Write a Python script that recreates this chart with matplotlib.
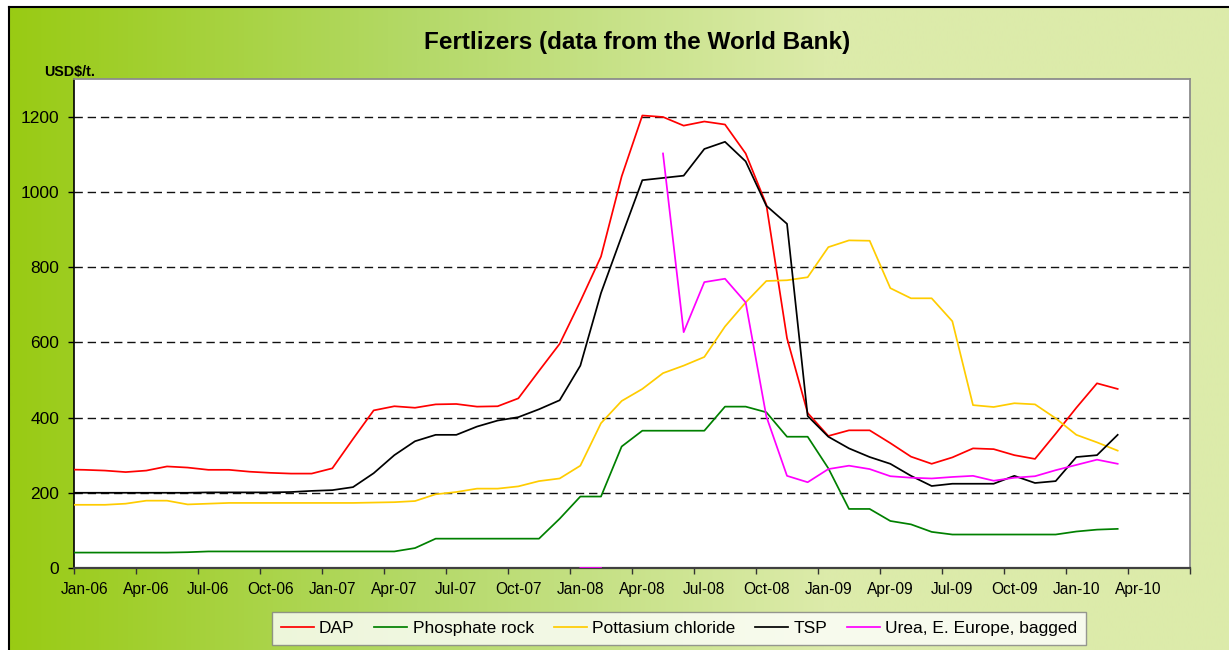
import numpy as np
import pandas as pd
import matplotlib
matplotlib.use("Agg")
import matplotlib.pyplot as plt
from matplotlib.colors import LinearSegmentedColormap

plt.rcParams['font.family'] = ['Liberation Sans', 'DejaVu Sans']

# ------------------ Data (USD per tonne, monthly, Dec-05 .. Mar-10) ------------------ #
months = pd.date_range("2005-12-01", "2010-03-01", freq="MS")

dap = [262,
       261, 259, 255, 259, 270, 267, 261, 261, 256, 253, 251, 251,
       265, 343, 419, 430, 426, 435, 436, 429, 430, 451, 524, 596,
       709, 828, 1041, 1203, 1199, 1176, 1187, 1179, 1102, 966, 611, 412,
       351, 366, 366, 332, 296, 277, 294, 318, 316, 300, 290, 357,
       426, 491, 476]

phosphate_rock = [41,
                  41, 41, 41, 41, 41, 42, 44, 44, 44, 44, 44, 44,
                  44, 44, 44, 44, 53, 78, 78, 78, 78, 78, 78, 131,
                  190, 190, 323, 365, 365, 365, 365, 429, 429, 414, 349, 349,
                  265, 157, 157, 125, 116, 96, 89, 89, 89, 89, 89, 89,
                  97, 102, 104]

potassium_chloride = [168,
                      168, 168, 171, 179, 179, 169, 171, 173, 173, 173, 173, 173,
                      173, 173, 174, 175, 178, 196, 202, 211, 211, 217, 231, 238,
                      272, 385, 444, 476, 518, 538, 561, 642, 706, 763, 765, 773,
                      853, 871, 870, 744, 717, 717, 656, 433, 428, 438, 435, 398,
                      354, 334, 312]

tsp = [200,
       200, 200, 200, 200, 200, 200, 201, 201, 201, 201, 202, 205,
       207, 215, 252, 300, 337, 354, 354, 376, 392, 401, 422, 446,
       538, 731, 882, 1031, 1037, 1043, 1114, 1133, 1081, 963, 915, 404,
       349, 318, 295, 277, 245, 218, 224, 224, 224, 245, 226, 231,
       295, 300, 354]

nan = np.nan
urea = [nan,
        nan, nan, nan, nan, nan, nan, nan, nan, nan, nan, nan, nan,
        nan, nan, nan, nan, nan, nan, nan, nan, nan, nan, nan, nan,
        0, 0, nan, nan, 1102, 627, 760, 769, 706, 403, 245, 228,
        263, 272, 263, 244, 240, 238, 242, 245, 232, 240, 244, 260,
        274, 288, 277]

series = [
    ("DAP", dap, "#ff0000"),
    ("Phosphate rock", phosphate_rock, "#008000"),
    ("Pottasium chloride", potassium_chloride, "#ffcc00"),
    ("TSP", tsp, "#000000"),
    ("Urea, E. Europe, bagged", urea, "#ff00ff"),
]

tick_months = pd.date_range("2006-01-01", "2010-04-01", freq="3MS")

# ------------------ Figure ------------------ #
W, H = 1229, 650
fig = plt.figure(figsize=(W / 100, H / 100), dpi=100)
fig.patch.set_facecolor("white")


def fbox(x0, y0, x1, y1):
    # pixel box (top-left origin) -> figure fraction rect
    return [x0 / W, 1 - y1 / H, (x1 - x0) / W, (y1 - y0) / H]


# gradient background of the chart area
bg = fig.add_axes(fbox(9, 7, W + 5, H + 5))
grad = LinearSegmentedColormap.from_list("bg", ["#99cb14", "#b4d968", "#dcebaa", "#dcebaa"])
bg.imshow(np.linspace(0, 1, 512)[None, :], aspect="auto", cmap=grad,
          extent=[0, 1, 0, 1], interpolation="bilinear")
bg.set_xticks([])
bg.set_yticks([])
for side in ["right", "bottom"]:
    bg.spines[side].set_visible(False)
for side in ["top", "left"]:
    bg.spines[side].set_color("black")
    bg.spines[side].set_linewidth(1.5)

ax = fig.add_axes(fbox(74, 79, 1190, 568))
ax.set_facecolor("white")

# month index -> position at the centre of the month band (Jan-06 band = [0, 1])
def month_pos(d):
    return (d.year - 2006) * 12 + d.month - 1 + 0.5


x = np.array([month_pos(d) for d in months])

handles = []
for name, vals, color in series:
    ln, = ax.plot(x, vals, color=color, lw=1.25, label=name, zorder=3)
    handles.append(ln)

ax.set_xlim(0, 54)
ax.set_ylim(0, 1300)

ax.set_xticks(np.arange(0, 55, 3))
ax.set_xticklabels([])
ax.set_xticks([month_pos(d) for d in tick_months], minor=True)
ax.set_xticklabels(tick_months.strftime("%b-%y"), minor=True)
ax.tick_params(axis="x", which="major", direction="out", length=4.5, width=1, color="#333333")
ax.tick_params(axis="x", which="minor", length=0, pad=10, labelsize=11.2)

ax.set_yticks(np.arange(0, 1201, 200))
ax.tick_params(axis="y", direction="out", length=4.5, width=1, pad=6, labelsize=12.5)

ax.yaxis.grid(True, linestyle=(0, (6, 3.5)), color="#111111", lw=1.0)
ax.set_axisbelow(True)

ax.spines["left"].set_color("black")
ax.spines["left"].set_linewidth(1.2)
ax.spines["bottom"].set_color("#404040")
ax.spines["bottom"].set_linewidth(1.6)
for side in ["top", "right"]:
    ax.spines[side].set_color("#8c8c8c")
    ax.spines[side].set_linewidth(1.3)

fig.text(637 / W, 1 - 42 / H, "Fertlizers (data from the World Bank)",
         ha="center", va="center", fontsize=17.5, fontweight="bold")
fig.text(44 / W, 1 - 72 / H, "USD$/t.", ha="left", va="center",
         fontsize=10.3, fontweight="bold")

leg = fig.legend(handles=handles, loc="upper left", bbox_to_anchor=(272 / W, 1 - 612 / H),
                 ncol=5, frameon=True, fancybox=False, edgecolor="#808080",
                 fontsize=12.5, handlelength=1.9, handletextpad=0.3,
                 columnspacing=1.15, borderpad=0.5, borderaxespad=0)
leg.get_frame().set_linewidth(1.0)
leg.get_frame().set_facecolor("white")

fig.savefig("out.png", dpi=100)
